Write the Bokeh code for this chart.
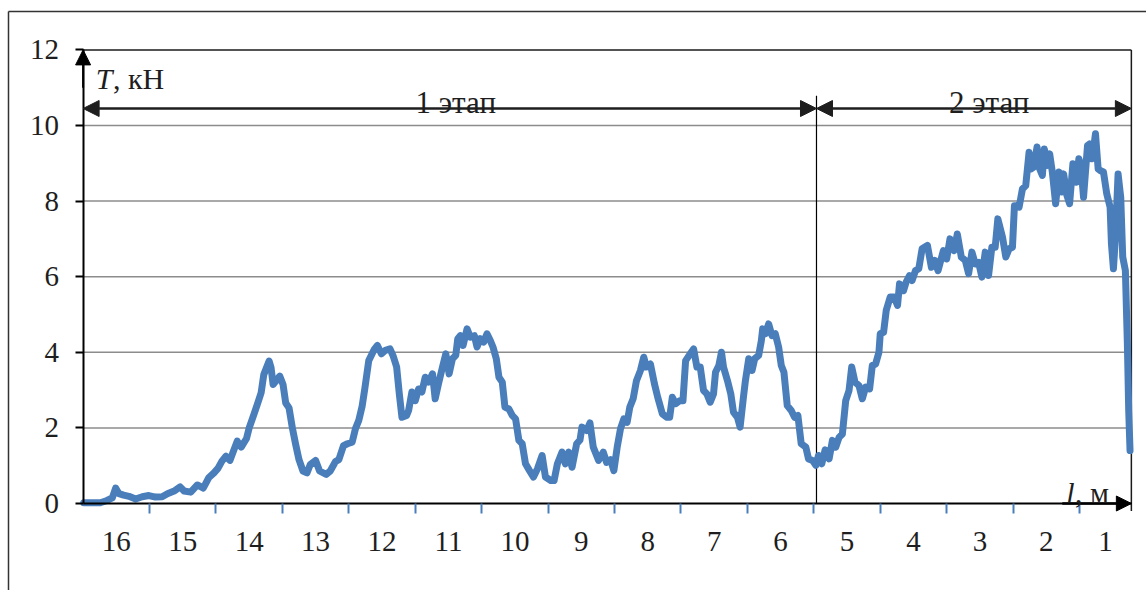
from bokeh.plotting import figure
from bokeh.models import Range1d, FixedTicker, Arrow, NormalHead, Label, LinearAxis
from bokeh.embed import file_html
from bokeh.resources import INLINE

# Distance along the section (one unit per metre mark, left to right) and tension, kN
distance = [
    0.01, 0.26, 0.36, 0.44, 0.49, 0.54, 0.61, 0.69, 0.79, 0.89, 0.99, 1.09, 1.19, 1.27,
    1.37, 1.46, 1.52, 1.62, 1.72, 1.81, 1.89, 1.97, 2.03, 2.09, 2.15, 2.21, 2.32, 2.38,
    2.46, 2.50, 2.57, 2.63, 2.68, 2.72, 2.80, 2.83, 2.86, 2.92, 2.96, 3.01, 3.05, 3.10,
    3.15, 3.20, 3.25, 3.31, 3.37, 3.42, 3.50, 3.56, 3.66, 3.72,
    3.80, 3.85, 3.92, 3.98, 4.05, 4.10, 4.15, 4.20, 4.24, 4.30, 4.38, 4.43, 4.49, 4.55,
    4.62, 4.67, 4.72, 4.76, 4.80, 4.87, 4.90, 4.95, 5.00, 5.05, 5.10, 5.15, 5.20, 5.26,
    5.30, 5.35, 5.41, 5.46, 5.51, 5.56, 5.61, 5.64, 5.68, 5.72, 5.78, 5.83, 5.89, 5.93,
    5.98, 6.03, 6.08, 6.13, 6.17, 6.22, 6.26, 6.31, 6.35, 6.41, 6.46, 6.51, 6.56, 6.61,
    6.66, 6.72, 6.78, 6.84, 6.91, 6.96, 7.04, 7.09, 7.14, 7.21, 7.26, 7.31, 7.36, 7.43,
    7.48, 7.51, 7.58, 7.63, 7.68, 7.76, 7.83, 7.88, 7.94, 7.99, 8.04, 8.09, 8.14, 8.19,
    8.23, 8.28, 8.33, 8.39, 8.44, 8.48, 8.54, 8.60, 8.65, 8.72, 8.79, 8.83, 8.87, 8.92,
    8.98, 9.03, 9.07, 9.14, 9.19, 9.24, 9.29, 9.34, 9.39, 9.44, 9.49, 9.52, 9.57, 9.61,
    9.64, 9.70, 9.75, 9.79, 9.85, 9.89, 9.94, 9.97, 10.02, 10.07, 10.11, 10.17, 10.21,
    10.23, 10.27, 10.32, 10.37, 10.42, 10.47, 10.51, 10.55, 10.60, 10.66, 10.71, 10.76,
    10.81, 10.88, 10.92, 10.98, 11.03, 11.07, 11.12, 11.17, 11.23, 11.28, 11.33, 11.38,
    11.43, 11.48, 11.53, 11.57, 11.62, 11.68, 11.73, 11.78, 11.84, 11.88, 11.93, 11.98,
    12.00, 12.05, 12.09, 12.15, 12.21, 12.26, 12.29, 12.35, 12.39, 12.44, 12.48, 12.53,
    12.58, 12.63, 12.71, 12.77, 12.82, 12.87, 12.95, 13.00, 13.05, 13.11, 13.16, 13.22,
    13.28, 13.33, 13.38, 13.43, 13.48, 13.53, 13.58, 13.63, 13.68, 13.73, 13.77, 13.84,
    13.89, 13.94, 13.99, 14.02, 14.09, 14.14, 14.19, 14.24, 14.27, 14.31, 14.36, 14.40,
    14.44, 14.47, 14.51, 14.55, 14.59, 14.64, 14.69, 14.73, 14.76, 14.81, 14.85, 14.90,
    14.95, 14.99, 15.02, 15.06, 15.12, 15.15, 15.19, 15.24, 15.28, 15.31, 15.36, 15.41,
    15.46, 15.48, 15.51, 15.54, 15.58, 15.62, 15.65, 15.69, 15.72, 15.74, 15.76,
]
tension = [
    0.02, 0.02, 0.08, 0.15, 0.41, 0.26, 0.22, 0.19, 0.12, 0.18, 0.21, 0.17, 0.18, 0.26,
    0.33, 0.44, 0.33, 0.30, 0.49, 0.41, 0.68, 0.81, 0.93, 1.12, 1.25, 1.14, 1.65, 1.49,
    1.72, 2.00, 2.35, 2.66, 2.93, 3.41, 3.77, 3.59, 3.15, 3.28, 3.37, 3.15, 2.66, 2.53,
    2.00, 1.56, 1.16, 0.86, 0.81, 1.03, 1.14, 0.86, 0.77, 0.86,
    1.11, 1.16, 1.53, 1.58, 1.62, 1.98, 2.20, 2.57, 3.03, 3.78, 4.07, 4.18, 3.96, 4.05,
    4.09, 3.89, 3.61, 2.90, 2.28, 2.33, 2.46, 2.95, 2.72, 3.03, 2.95, 3.34, 3.21, 3.43,
    2.77, 3.17, 3.61, 3.96, 3.43, 3.83, 3.92, 4.36, 4.44, 4.18, 4.62, 4.40, 4.44, 4.14,
    4.36, 4.27, 4.49, 4.31, 4.14, 3.83, 3.34, 3.21, 2.55, 2.50, 2.33, 2.24, 1.67, 1.58,
    1.05, 0.87, 0.70, 0.92, 1.27, 0.70, 0.61, 0.61, 1.05, 1.36, 1.05, 1.36, 0.96, 1.58,
    1.68, 2.02, 1.93, 2.13, 1.49, 1.14, 1.36, 1.09, 1.16, 0.87, 1.49, 1.98, 2.24, 2.15,
    2.55, 2.77, 3.25, 3.52, 3.87, 3.61, 3.69, 3.17, 2.81, 2.37, 2.28, 2.28, 2.81, 2.64,
    2.72, 2.72, 3.78, 3.96, 4.09, 3.61, 3.61, 2.99, 2.90, 2.68, 2.90, 3.47, 3.65, 4.00,
    3.61, 3.25, 2.90, 2.42, 2.28, 2.02, 2.81, 3.25, 3.83, 3.52, 3.83, 3.92, 4.31,
    4.62, 4.49, 4.75, 4.44, 4.49, 4.14, 3.65, 3.47, 2.59, 2.46, 2.28, 2.33,
    1.58, 1.49, 1.18, 1.14, 1.01, 1.27, 1.05, 1.42, 1.18, 1.67, 1.49, 1.75,
    1.84, 2.72, 2.99, 3.61, 3.21, 3.12, 2.77, 3.08, 3.03, 3.65, 3.69, 4.00,
    4.49, 4.53, 5.11, 5.46, 5.46, 5.24, 5.81, 5.63, 5.86, 6.03, 5.90, 6.16,
    6.21, 6.74, 6.83, 6.25, 6.43, 6.16, 6.69, 6.47, 7.00, 6.69, 7.13, 6.52,
    6.43, 6.08, 6.65, 6.34, 6.38, 5.99, 6.65, 6.03, 6.78, 6.78, 7.53, 7.05,
    6.52, 6.74, 6.78, 7.88, 7.84, 8.32, 8.41, 9.29, 8.85, 8.90, 9.43, 8.85,
    8.68, 9.38, 8.94, 9.25, 8.77, 7.93, 8.77, 8.24, 8.72, 8.15, 7.93, 8.99,
    8.50, 9.12, 8.94, 8.10, 9.47, 9.51, 9.12, 9.78, 8.85, 8.81, 8.77, 8.19,
    7.84, 6.87, 6.21, 7.05, 8.72, 8.10, 6.52, 6.16, 4.22, 2.46, 1.40,
]

# Metre marks (labels sit between the boundary ticks)
metre_labels = ["16", "15", "14", "13", "12", "11", "10", "9", "8", "7", "6", "5", "4", "3", "2", "1"]
metre_label_pos = [0.5, 1.5, 2.5, 3.5, 4.5, 5.5, 6.5, 7.5, 8.5, 9.5, 10.5, 11.5, 12.5, 13.5, 14.5, 15.39]
metre_bounds = [1, 2, 3, 4, 5, 6, 7, 8, 9, 10, 11, 12, 13, 14, 15]
y_ticks = [0, 2, 4, 6, 8, 10, 12]
grid_ticks = [2, 4, 6, 8, 10]

# Stages
stage_names = ["1 этап", "2 этап"]
stage_bounds = [0, 11.04, 15.78]

X_END = 15.78
Y_END = 12
BLUE = "#4A7EBB"
INK = "#1e1e1e"
SERIF = "Liberation Serif"

# The data area spans the whole canvas so the outer frame and arrow heads are not clipped;
# the axes are pinned to the origin and bounded to the chart box.
W, H = 1146, 590
X0_PX, X_SCALE = 82.6, 66.43      # px of x = 0, px per metre
Y0_PX, Y_SCALE = 503.0, 37.8      # px of y = 0, px per kN
x_range = Range1d(-X0_PX / X_SCALE, (W - X0_PX) / X_SCALE)
y_range = Range1d(-(H - Y0_PX) / Y_SCALE, Y0_PX / Y_SCALE)

p = figure(width=W, height=H, output_backend="svg", toolbar_location=None,
           x_range=x_range, y_range=y_range, x_axis_type=None, y_axis_type=None,
           min_border=0, min_border_left=0, min_border_right=0,
           min_border_top=0, min_border_bottom=0)
p.background_fill_color = "white"
p.border_fill_color = "white"
p.outline_line_color = None
p.xgrid.visible = False
p.ygrid.visible = False

# horizontal grid lines
p.segment(x0=[0] * len(grid_ticks), y0=grid_ticks, x1=[X_END] * len(grid_ticks), y1=grid_ticks,
          line_color="#8c8c8c", line_width=1.5)

# chart box: top and right edges
p.segment(x0=[0, X_END], y0=[Y_END, Y_END], x1=[X_END, X_END], y1=[Y_END, -0.2],
          line_color="#1a1a1a", line_width=1.5)

# outer frame: left and top edges
FRAME_X = -1.123
FRAME_Y = 13.016
p.segment(x0=[FRAME_X, FRAME_X], y0=[y_range.start, FRAME_Y], x1=[FRAME_X, x_range.end], y1=[FRAME_Y, FRAME_Y],
          line_color="#333333", line_width=1.5)

# y axis
yax = LinearAxis(fixed_location=0, bounds=(0, Y_END), ticker=FixedTicker(ticks=y_ticks))
yax.axis_line_color = "black"
yax.axis_line_width = 2
yax.major_tick_out = 8
yax.major_tick_in = 0
yax.major_tick_line_width = 2
yax.major_tick_line_color = "black"
yax.minor_tick_out = 0
yax.minor_tick_in = 0
yax.major_label_text_font = SERIF
yax.major_label_text_font_size = "29px"
yax.major_label_text_color = INK
yax.major_label_standoff = 16
p.add_layout(yax, "left")

# x axis: labels centred in each metre, blue ticks at the boundaries
xax = LinearAxis(fixed_location=0, bounds=(0, X_END),
                 ticker=FixedTicker(ticks=metre_label_pos, minor_ticks=metre_bounds))
xax.major_label_overrides = {pos: lab for pos, lab in zip(metre_label_pos, metre_labels)}
xax.axis_line_color = "black"
xax.axis_line_width = 2
xax.major_tick_out = 0
xax.major_tick_in = 0
xax.minor_tick_out = 10
xax.minor_tick_in = 0
xax.minor_tick_line_color = BLUE
xax.minor_tick_line_width = 2
xax.major_label_text_font = SERIF
xax.major_label_text_font_size = "29px"
xax.major_label_text_color = INK
xax.major_label_standoff = 18
p.add_layout(xax, "below")

# boundary between the two stages
p.segment(x0=[stage_bounds[1]], y0=[0], x1=[stage_bounds[1]], y1=[10.79],
          line_color="black", line_width=1.2)

# tension curve
p.line(distance, tension, line_color=BLUE, line_width=7, line_join="round", line_cap="round")

# axis arrows
p.add_layout(Arrow(end=NormalHead(size=15, fill_color="black", line_color="black"),
                   x_start=0, y_start=11, x_end=0, y_end=Y_END,
                   line_color="black", line_width=2))
p.add_layout(Arrow(end=NormalHead(size=15, fill_color="black", line_color="black"),
                   x_start=14.74, y_start=0, x_end=X_END, y_end=0,
                   line_color="black", line_width=2.5))

# stage spans
STAGE_Y = 10.45
for i, name in enumerate(stage_names):
    x0, x1 = stage_bounds[i], stage_bounds[i + 1]
    p.add_layout(Arrow(start=NormalHead(size=16, fill_color=INK, line_color=INK),
                       end=NormalHead(size=16, fill_color=INK, line_color=INK),
                       x_start=x0, y_start=STAGE_Y, x_end=x1, y_end=STAGE_Y,
                       line_color=INK, line_width=2.5))
    p.add_layout(Label(x=(x0 + x1) / 2 + (0.09 if i == 0 else 0.23), y=10.62, text=name,
                       text_align="center", text_baseline="alphabetic",
                       text_font=SERIF, text_font_size="31px", text_color=INK))

# axis titles
p.add_layout(Label(x=0.19, y=11.24, text="T", text_font=SERIF, text_font_style="italic",
                   text_font_size="30px", text_color=INK, text_baseline="alphabetic"))
p.add_layout(Label(x=0.45, y=11.24, text=", кН", text_font=SERIF,
                   text_font_size="30px", text_color=INK, text_baseline="alphabetic"))
p.add_layout(Label(x=14.80, y=0.30, text="l", text_font=SERIF, text_font_style="italic",
                   text_font_size="30px", text_color=INK, text_baseline="alphabetic"))
p.add_layout(Label(x=14.93, y=0.30, text=", м", text_font=SERIF,
                   text_font_size="30px", text_color=INK, text_baseline="alphabetic"))

open("out.html", "w").write(file_html(p, INLINE))
